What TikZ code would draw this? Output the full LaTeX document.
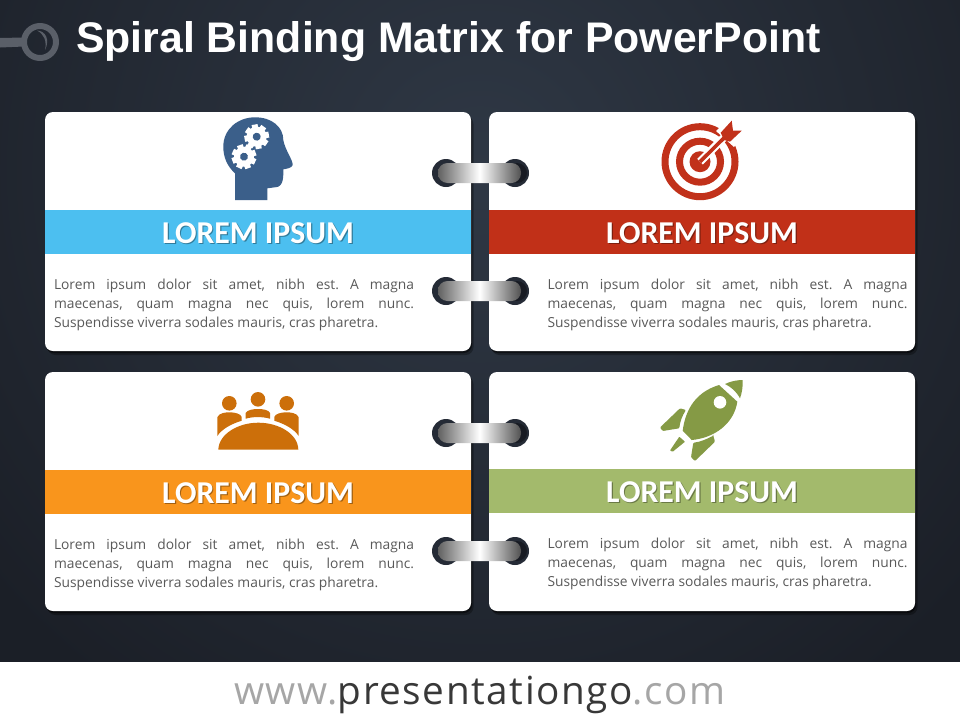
\documentclass[tikz,border=0pt]{standalone}
\usepackage{fontspec}
\setmainfont{Open Sans}
\newfontfamily\titlefont{Liberation Sans}
\newfontfamily\bandfont{Carlito}
\usetikzlibrary{positioning,shadows}

\definecolor{bgin}{HTML}{2F3845}
\definecolor{bgout}{HTML}{1B1F27}
\definecolor{hole}{HTML}{252B36}
\definecolor{ghost}{HTML}{5A5F68}
\definecolor{headblue}{HTML}{3B5F8A}
\definecolor{targetred}{HTML}{C1311A}
\definecolor{teamorange}{HTML}{CC6F0A}
\definecolor{rocketgreen}{HTML}{859A45}
\definecolor{bandA}{HTML}{4CBFF0}
\definecolor{bandB}{HTML}{C13018}
\definecolor{bandC}{HTML}{F9951C}
\definecolor{bandD}{HTML}{A3BA6C}
\definecolor{bodygrey}{HTML}{595959}

\def\headpath{(235,200) -- (235,173.3) .. controls (227,166) and (223.3,157) .. (223.3,146.7)
  .. controls (223.3,129) and (238,117.3) .. (255,117.3)
  .. controls (272,117.3) and (283.3,127) .. (283.3,140)
  .. controls (285,150) and (293,160) .. (292.7,165)
  .. controls (292,168) and (286,169) .. (283.3,169.3)
  .. controls (283.3,176) and (284,187.3) .. (275,187.3) -- (267.3,188.3) -- (267.3,200) -- cycle}
\def\bodypath{(719,385) .. controls (693,393) and (685,413) .. (682.7,430.7) -- (691.7,440)
  .. controls (714,438) and (734,424) .. (737.3,401.7) -- cycle}
\def\nosepath{(725,384) .. controls (731,381) and (738,380) .. (742.7,380)
  .. controls (743,386) and (742,393) .. (740,398.3) .. controls (736,391) and (731,387) .. (725,384) -- cycle}
\def\tablepath{(218.3,449.5) .. controls (219,434) and (238,422.7) .. (258.3,422.7)
  .. controls (279,422.7) and (298,434) .. (298.3,449.5) -- cycle}
\def\bodytext{\frenchspacing Lorem ipsum dolor sit amet, nibh est. A magna\linebreak maecenas, quam magna nec quis, lorem nunc.\linebreak Suspendisse viverra sodales mauris, cras pharetra.}

\newcommand{\gearicon}[2]{%
  \begin{scope}[shift={(#1)},rotate=#2]
    \fill[white] (0,0) circle (10);
    \foreach \a in {0,45,...,315}
      \fill[white,rotate=\a] (-3,-12.3) rectangle (3,0);
    \fill[headblue] (0,0) circle (4);
  \end{scope}}
\newcommand{\ringpair}[1]{%
  \fill[hole] (446,#1) circle (14);
  \fill[hole] (515,#1) circle (14);
  \fill[black,opacity=.35] (517,#1) circle (10);
  \shade[left color=black!62,right color=black!68,middle color=white,rounded corners=9.5]
    (438,#1-10) rectangle (521,#1+10);}

\tikzset{
  cardbox/.style={fill=white,rounded corners=8,minimum width=426,minimum height=239,
    drop shadow={shadow xshift=1pt,shadow yshift=-2pt,opacity=.5,fill=black},
    drop shadow={shadow xshift=2.5pt,shadow yshift=-4pt,opacity=.3,fill=black}},
  bandbox/.style={minimum width=426,minimum height=44,inner sep=0},
  bandlabel/.style={font=\bandfont\bfseries\fontsize{31.8}{34}\selectfont,text=white,inner sep=0},
  bandshadow/.style={font=\bandfont\bfseries\fontsize{31.8}{34}\selectfont,text=black,text opacity=.35,inner sep=0},
  bodynote/.style={font=\fontsize{13.8}{19}\selectfont,text=bodygrey,text width=360,align=justify,inner sep=0}
}

\begin{document}
\begin{tikzpicture}[x=1pt,y=-1pt]
\useasboundingbox (0,0) rectangle (960,720);

% background
\begin{scope}
  \clip (0,0) rectangle (960,662);
  \fill[bgout] (0,0) rectangle (960,662);
  \shade[inner color=bgin,outer color=bgout] (480,170) circle (640);
\end{scope}

% ring behind the title
\fill[ghost] (0,38) -- (24,37.5) -- (24,46.5) -- (0,47.5) -- cycle;
\draw[ghost,line width=6] (40,42) circle (16);
\fill[ghost] (37,30.5) .. controls (46,31) and (50,40) .. (45,50)
  .. controls (47,41) and (44,34) .. (37,30.5) -- cycle;

\node[anchor=base west,font=\titlefont\bfseries\fontsize{42.8}{46}\selectfont,text=white,inner sep=0]
  (title) at (76,52) {Spiral Binding Matrix for PowerPoint};

% cards
\foreach \n/\x/\y/\d/\s in {A/258/231.5/98/-24,B/702/231.5/98/25.5,C/258/491.5/98/-24,D/702/491.5/97/25.5} {
  \node[cardbox] (card\n) at (\x,\y) {};
  \node[bandbox,fill=band\n,below=\d pt of card\n.north] (band\n) {};
  \node[bandshadow] (shadow\n) at ([xshift=1.2pt,yshift=-2.4pt]band\n.center) {LOREM IPSUM};
  \node[bandlabel] (label\n) at ([yshift=-1pt]band\n.center) {LOREM IPSUM};
  \node[bodynote,below=25pt of band\n.south,xshift=\s pt] (note\n) {\bodytext};
}

% rings
\ringpair{173}
\ringpair{291}
\ringpair{433}
\ringpair{551}

% head
\fill[headblue] \headpath;
\gearicon{256.7,136.7}{10}
\gearicon{244,156.7}{20}

% target
\draw[targetred,line width=7] (700,161.7) circle (35);
\draw[targetred,line width=7] (700,161.7) circle (20.5);
\fill[targetred] (700,161.7) circle (10.5);
\draw[white,line width=8] (700,161.7) -- (727,134.5);
\fill[white] (716,131) -- (733,114) -- (748,130) -- (734,147) -- cycle;
\draw[targetred,line width=3.6] (700,161.7) -- (726,136);
\fill[targetred] (720.7,132.7) -- (731.7,120.7) -- (733,130.7) -- (741.7,130.7) -- (730,141.7) -- (724,140) -- cycle;

% team
\fill[teamorange] (229.3,403.3) circle (7.3);
\fill[teamorange] (258,399.3) circle (7.3);
\fill[teamorange] (286.7,403.3) circle (7.3);
\fill[teamorange] (217.3,436) -- (217.3,417.3) .. controls (219,413) and (225,412.3) .. (230,412.3)
  .. controls (235,412.3) and (241,414) .. (241.7,417) -- (241.7,420.7)
  .. controls (231,424) and (222,429) .. (217.3,436) -- cycle;
\fill[teamorange] (298.7,436) -- (298.7,417.3) .. controls (297,413) and (291,412.3) .. (286,412.3)
  .. controls (281,412.3) and (275,414) .. (274.3,417) -- (274.3,420.7)
  .. controls (285,424) and (294,429) .. (298.7,436) -- cycle;
\fill[teamorange] (245.7,418.7) -- (245.7,413) .. controls (247,410) and (253,409) .. (258,409)
  .. controls (263,409) and (269,410) .. (270,413) -- (270,418.7)
  .. controls (262,416.5) and (253,416.5) .. (245.7,418.7) -- cycle;
\fill[teamorange] \tablepath;

% rocket
\fill[rocketgreen] \bodypath;
\fill[rocketgreen] \nosepath;
\fill[white] (720,402.3) circle (6.3);
\fill[rocketgreen,rounded corners=1] (680,408.3) -- (686,410) .. controls (682,416) and (680,422) .. (679.3,428.3) -- (662.7,431) -- (660,427.5) -- cycle;
\fill[rocketgreen,rounded corners=1] (713.3,435.7) -- (715,441.7) -- (695,461) -- (691,457.3) -- (693.3,442.7) .. controls (700,442) and (707,439) .. (713.3,435.7) -- cycle;
\fill[rocketgreen,rounded corners=.6] (679.3,436.7) -- (685,441.7) -- (672.7,451.7) -- (670,450.5) -- cycle;

% footer
\fill[white] (0,662) rectangle (960,720);
\node[anchor=base west,inner sep=0,font=\fontsize{38.7}{40}\selectfont\addfontfeature{LetterSpace=4}]
  (footer) at (234,704) {\textcolor{black!35}{www.}\textcolor{black!78}{presentationgo}\textcolor{black!35}{.com}};
\end{tikzpicture}
\end{document}
